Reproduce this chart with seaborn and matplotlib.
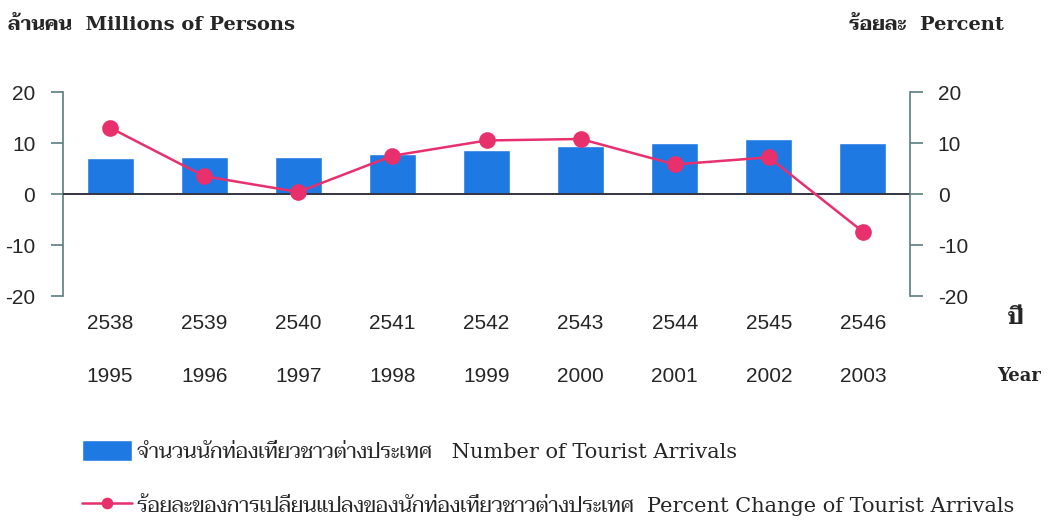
import matplotlib
matplotlib.use("Agg")
import matplotlib.pyplot as plt
import matplotlib.transforms as mtransforms
import numpy as np
import pandas as pd
import seaborn as sns

# data
YEARS_BE = ["2538", "2539", "2540", "2541", "2542", "2543", "2544", "2545", "2546"]
YEARS_CE = ["1995", "1996", "1997", "1998", "1999", "2000", "2001", "2002", "2003"]
ARRIVALS = [7.0, 7.2, 7.2, 7.8, 8.6, 9.5, 10.1, 10.7, 10.0]       # millions of persons
PCT_CHANGE = [13.0, 3.5, 0.4, 7.5, 10.5, 10.8, 5.8, 7.2, -7.4]    # percent
Y_TICKS = [-20, -10, 0, 10, 20]

LABEL_BAR = "จำนวนนักท่องเที่ยวชาวต่างประเทศ   Number of Tourist Arrivals"
LABEL_LINE = "ร้อยละของการเปลี่ยนแปลงของนักท่องเที่ยวชาวต่างประเทศ  Percent Change of Tourist Arrivals"

BAR_COLOR = "#1e79e3"
LINE_COLOR = "#e8306c"
AXIS_COLOR = "#5a7d80"

sns.set_style("white")
SERIF = ["DejaVu Serif", "Taviraj", "Noto Serif Thai"]
SANS = ["Liberation Sans", "DejaVu Sans"]
plt.rcParams["font.family"] = SERIF
plt.rcParams["axes.unicode_minus"] = False

df = pd.DataFrame({"year": YEARS_BE, "ce": YEARS_CE, "arrivals": ARRIVALS, "pct": PCT_CHANGE})
x = np.arange(len(df))

fig = plt.figure(figsize=(10.54, 5.23), dpi=100)
ax = fig.add_axes([0.0598, 0.434, 0.8036, 0.390])
sns.barplot(data=df, x="year", y="arrivals", color=BAR_COLOR, saturation=1, width=0.5, ax=ax, zorder=2)
ax.axhline(0, color="#333344", linewidth=1.4, zorder=3)

ax2 = ax.twinx()
sns.lineplot(x=x, y=df["pct"].values, ax=ax2, color=LINE_COLOR, linewidth=1.8,
             marker="o", markersize=12, markeredgewidth=0, zorder=4)

for a in (ax, ax2):
    a.set_ylim(-20, 20)
    a.set_yticks(Y_TICKS)
    a.set_xlim(-0.5, len(df) - 0.5)
    a.set_ylabel("")
    a.set_xlabel("")
    for s in ("top", "bottom"):
        a.spines[s].set_visible(False)
    a.tick_params(axis="y", length=9, width=1.2, color=AXIS_COLOR, labelsize=15, pad=11)
    for lab in a.get_yticklabels():
        lab.set_family(SANS)

ax.spines["right"].set_visible(False)
ax.spines["left"].set_color(AXIS_COLOR)
ax.spines["left"].set_linewidth(1.2)
ax2.spines["left"].set_visible(False)
ax2.spines["right"].set_color(AXIS_COLOR)
ax2.spines["right"].set_linewidth(1.2)

ax.set_xticks(x)
ax.set_xticklabels(df["year"], family=SANS, fontsize=15)
ax.tick_params(axis="x", length=0, pad=13)

# second row of year labels (C.E.)
trans = mtransforms.blended_transform_factory(ax.transData, fig.transFigure)
for xi, ce in zip(x, df["ce"]):
    fig.text(xi, 1 - 376 / 523, ce, transform=trans, ha="center", va="center",
             family=SANS, fontsize=15)

fig.text(0.008, 1 - 25 / 523, "ล้านคน  Millions of Persons", ha="left", va="center",
         fontsize=14, fontweight="bold")
fig.text(0.952, 1 - 25 / 523, "ร้อยละ  Percent", ha="right", va="center",
         fontsize=14, fontweight="bold")
fig.text(1016 / 1054, 1 - 318 / 523, "ปี", ha="center", va="center", fontsize=16, fontweight="bold")
fig.text(1019 / 1054, 1 - 376 / 523, "Year", ha="center", va="center", fontsize=13, fontweight="bold")

handles = [ax.patches[0], ax2.lines[0]]
leg = fig.legend(handles, [LABEL_BAR, LABEL_LINE], loc="upper left",
                 bbox_to_anchor=(82 / 1054, 1 - 440 / 523), frameon=False, fontsize=15,
                 borderpad=0, borderaxespad=0, handlelength=2.4, handleheight=1.2,
                 handletextpad=0.25, labelspacing=1.5, markerscale=0.7)

fig.savefig("out.png", dpi=100)
